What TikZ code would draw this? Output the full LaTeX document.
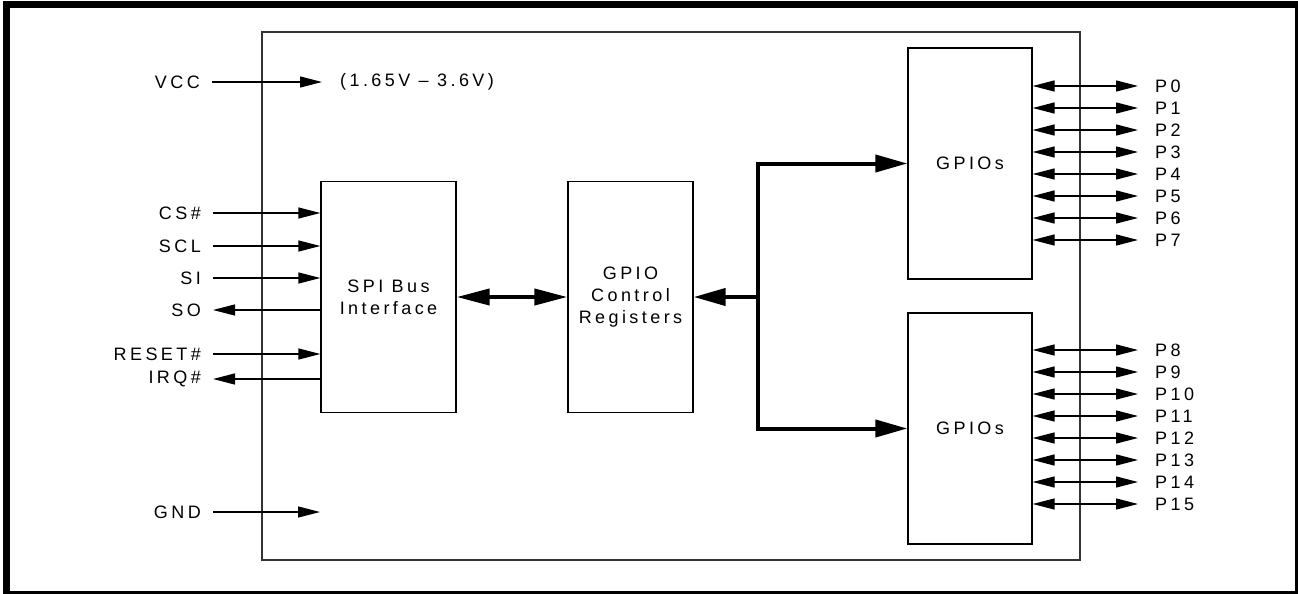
\documentclass[tikz,border=0pt]{standalone}
\usepackage{fontspec}
\setmainfont{Liberation Sans}[LetterSpace=19]
\usetikzlibrary{arrows.meta,positioning}

\begin{document}
\begin{tikzpicture}[x=1pt,y=-1pt,>={Triangle[length=22pt,width=11pt]}, every node/.style={font=\fontsize{18}{22}\selectfont}]
    \tikzset{block/.style={draw,line width=1.3pt,minimum height=231pt,inner sep=0pt,align=center}}
    \tikzset{sigin/.style={anchor=east,inner sep=0pt,inner xsep=12pt}}
    \tikzset{pinlbl/.style={anchor=west,inner sep=0pt,inner xsep=17pt}}
    \tikzset{wire/.style={line width=1.3pt}}
    \tikzset{bus/.style={line width=4pt,line join=miter}}
    \tikzset{bustip/.tip={Triangle[length=32pt,width=17pt]}}
    \useasboundingbox (0,0) rectangle (1298,594);

    % outer frame
    \fill (3,1) rectangle (10,594);
    \fill (3,1) rectangle (1298,8);
    \fill (1295,1) rectangle (1298,594);
    \fill (3,591) rectangle (1298,594);

    % chip and blocks
    \node[draw=black!80,line width=1.5pt,minimum width=818pt,minimum height=528pt] (chip) at (671,296) {};
    \node[block,minimum width=135pt] (spi) at (388.5,297) {SPI Bus\\Interface};
    \node[block,minimum width=125pt] (ctrl) at (630.5,297) {GPIO\\Control\\Registers};
    \node[block,minimum width=124pt] (gpioA) at (970,163.5) {GPIOs};
    \node[block,minimum width=124pt] (gpioB) at (970,428.5) {GPIOs};

    % supply
    \node[sigin] (vcc) at (212,82) {VCC};
    \node[pinlbl,inner xsep=18pt] (vrange) at (322,82) {(1.65V – 3.6V)};
    \draw[wire,->] (vcc) -- (vrange);
    \node[sigin] (gnd) at (213,512) {GND};
    \coordinate (gndend) at (320,512);
    \draw[wire,->] (gnd) -- (gndend);

    % SPI side signals
    \node[sigin] (cs) at (213,213) {CS\#};
    \node[sigin] (scl) at (213,246) {SCL};
    \node[sigin] (si) at (213,278) {SI};
    \node[sigin] (so) at (213,310) {SO};
    \node[sigin] (rst) at (213,354) {RESET\#};
    \node[sigin] (irq) at (213,379) {IRQ\#};
    \foreach \s in {cs,scl,si,rst}
        \draw[wire,->] (\s.east) -- (\s.east -| spi.west);
    \foreach \s in {so,irq}
        \draw[wire,->] (\s.east -| spi.west) -- (\s.east);

    % internal bus
    \draw[bus,{Triangle[length=33pt,width=16pt]}-{Triangle[length=33pt,width=16pt]}] (spi.east) -- (ctrl.west);
    \coordinate (busTop) at (758,163.5);
    \coordinate (busBot) at (758,428.5);
    \draw[bus,bustip-bustip] (gpioA.west) -- (busTop) -- (busBot) -- (gpioB.west);
    \draw[bus,-bustip] (busTop |- ctrl.east) -- (ctrl.east);

    % port pins
    \foreach \i in {0,...,7} {
        \node[pinlbl] (p\i) at (1138,86+22*\i) {P\i};
        \draw[wire,<->] (gpioA.east |- p\i.west) -- (p\i.west);
    }
    \foreach \i in {8,...,15} {
        \node[pinlbl] (p\i) at (1138,350+22*\i-176) {P\i};
        \draw[wire,<->] (gpioB.east |- p\i.west) -- (p\i.west);
    }
\end{tikzpicture}
\end{document}
